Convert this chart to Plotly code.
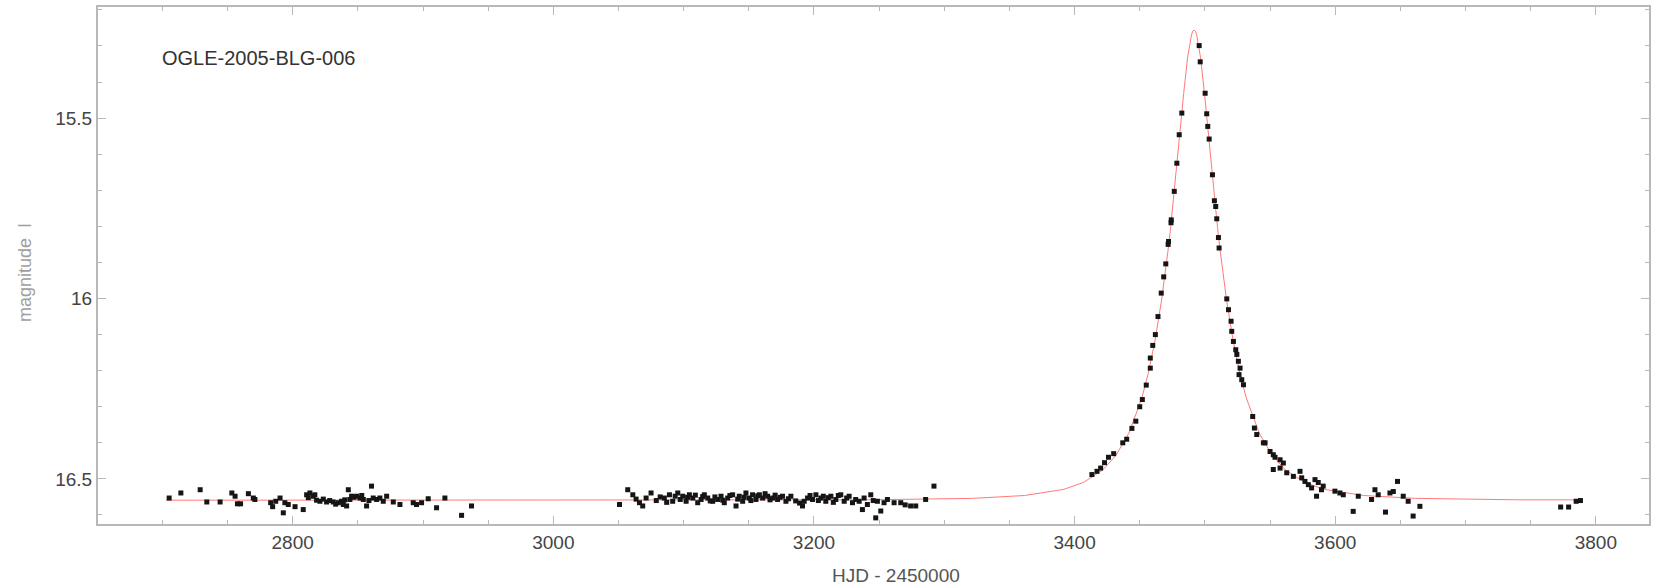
import plotly.graph_objects as go

# ---- observed photometry (HJD - 2450000, I magnitude) ----
base1_t = [2705.2, 2714.2, 2729.0, 2734.1, 2744.3, 2753.3, 2755.8, 2757.6, 2760.0, 2766.0,
           2769.8, 2771.0, 2783.1, 2784.6, 2787.0, 2790.3, 2792.8, 2794.0, 2796.6, 2801.8,
           2808.1, 2810.7, 2812.0, 2813.2, 2815.8, 2817.0, 2818.3, 2820.9, 2823.5, 2826.0,
           2828.4, 2831.1, 2833.0, 2835.0, 2837.5, 2838.8, 2840.0, 2841.4, 2842.7, 2843.9,
           2845.2, 2847.0, 2849.1, 2851.6, 2853.0, 2854.2, 2856.7, 2858.5, 2860.5, 2861.8,
           2864.4, 2866.9, 2869.5, 2872.1, 2877.2, 2882.3, 2892.5, 2895.0, 2898.9, 2904.0,
           2910.4, 2916.8, 2929.6, 2937.2]
base1_m = [16.553, 16.539, 16.530, 16.564, 16.564, 16.539, 16.548, 16.569, 16.569, 16.541,
           16.553, 16.557, 16.566, 16.577, 16.562, 16.553, 16.594, 16.566, 16.571, 16.577,
           16.585, 16.544, 16.552, 16.539, 16.548, 16.544, 16.559, 16.562, 16.556, 16.564,
           16.560, 16.564, 16.570, 16.566, 16.562, 16.571, 16.558, 16.575, 16.530, 16.557,
           16.548, 16.551, 16.548, 16.553, 16.546, 16.557, 16.575, 16.560, 16.520, 16.553,
           16.557, 16.553, 16.562, 16.548, 16.564, 16.571, 16.566, 16.571, 16.566, 16.555,
           16.580, 16.553, 16.601, 16.575]

base2_t = [3050.8, 3057.1, 3061.0, 3063.5, 3066.1, 3068.6, 3071.2, 3075.0, 3079.0, 3082.0,
           3085.2, 3087.0, 3089.1, 3091.6, 3093.5, 3095.5, 3097.4, 3099.3, 3101.9, 3103.0,
           3104.4, 3107.0, 3109.0, 3110.8, 3113.4, 3114.6, 3115.9, 3118.5, 3120.4, 3122.3,
           3124.0, 3126.1, 3128.7, 3130.0, 3131.2, 3133.8, 3135.5, 3137.6, 3140.2, 3141.5,
           3142.7, 3145.3, 3146.5, 3147.8, 3150.4, 3151.6, 3152.9, 3155.5, 3156.8, 3158.1,
           3160.6, 3162.5, 3164.4, 3166.3, 3168.3, 3170.2, 3172.1, 3174.0, 3175.9, 3178.5,
           3180.4, 3182.3, 3186.0, 3189.0, 3191.2, 3192.5, 3195.1, 3197.0, 3198.9, 3201.5,
           3203.4, 3205.3, 3207.2, 3209.1, 3211.0, 3213.0, 3214.9, 3216.8, 3218.7, 3220.6,
           3223.2, 3225.1, 3227.0, 3229.6, 3232.0, 3234.7, 3237.2, 3238.5, 3241.0, 3243.6,
           3245.5, 3247.4, 3248.7, 3251.3, 3253.8, 3256.4, 3261.5, 3266.6, 3270.0, 3274.2,
           3278.1, 3285.7, 3292.1]
base2_m = [16.571, 16.530, 16.544, 16.556, 16.566, 16.575, 16.553, 16.539, 16.560, 16.550,
           16.553, 16.565, 16.544, 16.562, 16.548, 16.539, 16.557, 16.548, 16.562, 16.551,
           16.544, 16.553, 16.545, 16.566, 16.557, 16.549, 16.544, 16.553, 16.561, 16.562,
           16.550, 16.557, 16.548, 16.559, 16.566, 16.553, 16.546, 16.544, 16.575, 16.556,
           16.548, 16.562, 16.551, 16.539, 16.553, 16.560, 16.544, 16.557, 16.547, 16.544,
           16.553, 16.541, 16.548, 16.558, 16.553, 16.545, 16.557, 16.551, 16.548, 16.562,
           16.555, 16.548, 16.561, 16.567, 16.575, 16.562, 16.553, 16.546, 16.557, 16.544,
           16.560, 16.553, 16.548, 16.562, 16.552, 16.548, 16.565, 16.557, 16.546, 16.544,
           16.562, 16.553, 16.548, 16.566, 16.557, 16.562, 16.585, 16.553, 16.571, 16.544,
           16.560, 16.608, 16.562, 16.589, 16.566, 16.557, 16.566, 16.566, 16.572, 16.575,
           16.575, 16.557, 16.520]

event_t = [3413.3, 3417.2, 3420.0, 3423.0, 3426.0, 3430.0, 3437.0, 3440.0, 3444.0, 3447.0,
           3450.0, 3452.0, 3455.0, 3458.1, 3458.1, 3460.0, 3462.0, 3464.0, 3466.5, 3468.4,
           3470.0, 3471.8, 3472.1, 3474.0, 3474.2, 3476.5, 3478.5, 3480.3, 3482.3,
           3495.6, 3496.4, 3500.2, 3501.4, 3502.2, 3503.3, 3505.8, 3507.3, 3508.3, 3509.1,
           3510.4, 3510.9, 3516.8, 3518.1, 3520.1, 3520.6, 3521.9, 3523.7, 3524.5, 3525.7,
           3527.0, 3526.2, 3528.3, 3529.6, 3536.7, 3538.0, 3539.8, 3544.9, 3546.2, 3550.0,
           3552.5, 3553.8, 3557.7, 3560.2, 3552.5, 3557.7, 3562.8, 3567.9, 3573.0, 3574.3,
           3576.8, 3579.4, 3581.9, 3584.5, 3587.0, 3585.7, 3590.8, 3589.5, 3599.8, 3603.6,
           3606.2, 3613.8, 3617.7, 3627.9, 3630.5, 3633.0, 3638.6, 3642.0, 3644.6, 3647.8,
           3652.2, 3656.0, 3659.8, 3665.0,
           3773.0, 3779.1, 3784.9, 3788.2]
event_m = [16.488, 16.479, 16.470, 16.455, 16.440, 16.430, 16.400, 16.390, 16.360, 16.340,
           16.300, 16.280, 16.240, 16.165, 16.193, 16.130, 16.100, 16.050, 15.985, 15.940,
           15.904, 15.850, 15.842, 15.790, 15.782, 15.703, 15.625, 15.546, 15.486,
           15.299, 15.344, 15.431, 15.488, 15.523, 15.558, 15.657, 15.729, 15.745, 15.779,
           15.831, 15.860, 16.001, 16.031, 16.063, 16.091, 16.119, 16.142, 16.155, 16.174,
           16.193, 16.211, 16.225, 16.239, 16.327, 16.359, 16.377, 16.400, 16.400, 16.424,
           16.433, 16.440, 16.447, 16.456, 16.474, 16.470, 16.483, 16.493, 16.479, 16.497,
           16.507, 16.516, 16.525, 16.502, 16.510, 16.548, 16.520, 16.530, 16.534, 16.539,
           16.544, 16.590, 16.548, 16.557, 16.530, 16.544, 16.592, 16.539, 16.535, 16.507,
           16.548, 16.562, 16.603, 16.576,
           16.578, 16.578, 16.562, 16.560]

obs_t = base1_t + base2_t + event_t
obs_m = base1_m + base2_m + event_m

# ---- model light curve (red line) ----
model_t = [2703.0, 3241.7, 3321.7, 3361.7, 3391.7, 3406.7, 3421.7, 3431.7, 3441.7, 3451.7,
           3456.7, 3461.7, 3466.7, 3469.2, 3471.7, 3473.7, 3475.7, 3477.7, 3479.7, 3481.7,
           3483.7, 3486.7, 3489.7, 3490.7, 3491.7, 3492.7, 3493.7, 3496.7, 3499.7, 3501.7,
           3503.7, 3505.7, 3507.7, 3509.7, 3511.7, 3514.2, 3516.7, 3521.7, 3526.7, 3531.7,
           3541.7, 3551.7, 3561.7, 3576.7, 3591.7, 3621.7, 3661.7, 3741.7, 3790.0]
model_m = [16.559, 16.558, 16.554, 16.546, 16.529, 16.510, 16.475, 16.435, 16.373, 16.275,
           16.205, 16.117, 16.006, 15.940, 15.867, 15.803, 15.734, 15.662, 15.585, 15.508,
           15.432, 15.333, 15.269, 15.259, 15.256, 15.259, 15.269, 15.333, 15.432, 15.508,
           15.585, 15.662, 15.734, 15.803, 15.867, 15.940, 16.006, 16.117, 16.205, 16.275,
           16.373, 16.435, 16.475, 16.510, 16.529, 16.546, 16.554, 16.558, 16.558]

x_range = [2650.6, 3840.8]
y_range = [16.625, 15.192]

fig = go.Figure()
fig.add_trace(go.Scatter(x=model_t, y=model_m, mode="lines",
                         line=dict(color="#ff7a7a", width=1), hoverinfo="skip"))
fig.add_trace(go.Scatter(x=obs_t, y=obs_m, mode="markers",
                         marker=dict(symbol="square", size=5, color="#151515",
                                     line=dict(width=0))))

font_family = "Liberation Sans, Arial, sans-serif"
axis_common = dict(showline=True, linecolor="#b8b8b8", linewidth=2, mirror="ticks",
                   ticks="inside", tickcolor="#b8b8b8", tickwidth=1,
                   showgrid=False, zeroline=False,
                   tickfont=dict(family=font_family, size=19, color="#444444"))

fig.update_layout(
    width=1653, height=585,
    margin=dict(l=98, r=2, t=7, b=61),
    paper_bgcolor="white", plot_bgcolor="white",
    showlegend=False,
    xaxis=dict(range=x_range, tickvals=[2800, 3000, 3200, 3400, 3600, 3800],
               ticklen=8, minor=dict(dtick=50, tick0=0, ticks="inside", ticklen=4,
                                     tickcolor="#b8b8b8", showgrid=False),
               **axis_common),
    yaxis=dict(range=y_range, tickvals=[15.5, 16, 16.5], ticktext=["15.5", "16", "16.5"],
               ticklen=8, minor=dict(dtick=0.1, tick0=0, ticks="inside", ticklen=4,
                                     tickcolor="#b8b8b8", showgrid=False),
               **axis_common),
    annotations=[
        dict(text="OGLE-2005-BLG-006", xref="paper", yref="paper",
             x=(160 - 98) / 1553, y=(517 + 7 - 58) / 517, xanchor="left", yanchor="middle",
             showarrow=False, font=dict(family=font_family, size=20, color="#333333")),
        dict(text="HJD - 2450000", xref="paper", yref="paper",
             x=(897 - 98) / 1553, y=-(575 - 524) / 517, xanchor="center", yanchor="middle",
             showarrow=False, font=dict(family=font_family, size=19, color="#555555")),
        dict(text="magnitude  I", xref="paper", yref="paper", textangle=-90,
             x=(25 - 98) / 1553, y=(524 - 273) / 517, xanchor="center", yanchor="middle",
             showarrow=False, font=dict(family=font_family, size=18, color="#a0a0a0")),
    ],
)

fig.write_html("out.html")
